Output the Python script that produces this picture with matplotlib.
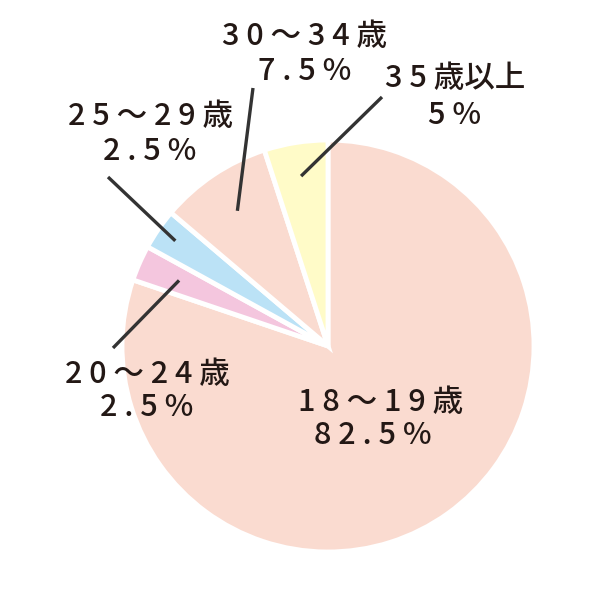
import math
import matplotlib
matplotlib.use("Agg")
import matplotlib.pyplot as plt

plt.rcParams['font.family'] = ['Noto Sans CJK JP', 'DejaVu Sans']

# Data (order: clockwise from 12 o'clock)
categories = ["1 8 ～ 1 9 歳", "2 0 ～ 2 4 歳", "2 5 ～ 2 9 歳", "3 0 ～ 3 4 歳", "3 5 歳以上"]
pct_labels = ["8 2 . 5 %", "2 . 5 %", "2 . 5 %", "7 . 5 %", "5 %"]
shares = [80.2, 2.8, 3.2, 8.8, 5.0]   # wedge sizes as drawn
colors = ["#FADBD0", "#F4C6DE", "#BBE2F6", "#FADBD0", "#FFFBC8"]

H = 600
fig = plt.figure(figsize=(6, 6), dpi=100)
ax = fig.add_axes([0, 0, 1, 1])

cx, cy, R = 328, H - 346, 206
wedges, _ = ax.pie(shares, colors=colors, startangle=90, counterclock=False,
                   center=(cx, cy), radius=R,
                   wedgeprops=dict(edgecolor="white", linewidth=3.5))
ax.set_xlim(0, 600)
ax.set_ylim(0, 600)
ax.set_aspect("equal")
ax.axis("off")

txt_color = "#231815"
fs = 22

# label layout: (line1 center, line2 center, leader start or None, radius frac)
layout = [
    ((381, 402), (373, 436), None, None),
    ((147, 375), (147, 408), (113, 348), 0.79),
    ((151, 117), (150, 152), (108, 177), 0.90),
    ((305, 36), (305, 72), (253, 88), 0.79),
    ((455, 78), (455, 116), (382, 97), 0.835),
]

for i, (w, (p1, p2, start, frac)) in enumerate(zip(wedges, layout)):
    ax.text(p1[0], H - p1[1], categories[i], ha="center", va="center",
            fontsize=fs, color=txt_color, fontweight="medium")
    ax.text(p2[0], H - p2[1], pct_labels[i], ha="center", va="center",
            fontsize=fs, color=txt_color, fontweight="medium")
    if start is not None:
        ang = math.radians((w.theta1 + w.theta2) / 2)
        ex = cx + frac * R * math.cos(ang)
        ey = cy + frac * R * math.sin(ang)
        ax.plot([start[0], ex], [H - start[1], ey], color="#333333",
                linewidth=2.4, solid_capstyle="butt")

fig.savefig("out.png", dpi=100, facecolor="white")
